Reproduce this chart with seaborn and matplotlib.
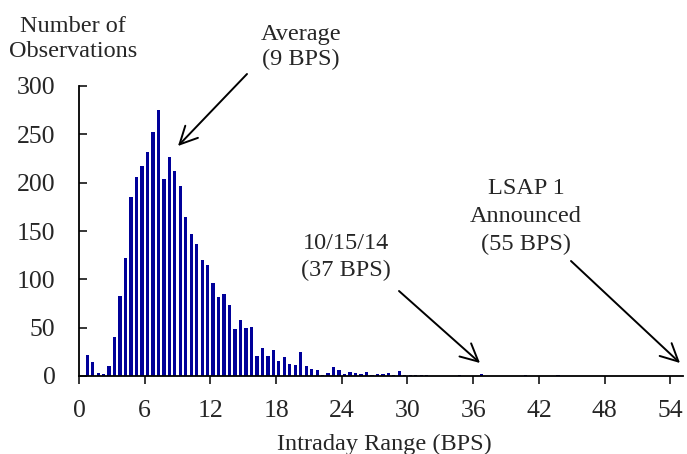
import numpy as np
import pandas as pd
import seaborn as sns
import matplotlib.pyplot as plt

# Histogram counts, 0.5 BPS bins starting at 0.5 BPS
counts = [22, 14, 3, 2, 10, 40, 83, 122, 185, 206,
          217, 232, 252, 275, 204, 227, 212, 197, 164, 147,
          137, 120, 115, 96, 82, 85, 73, 49, 58, 50,
          51, 21, 29, 21, 27, 16, 20, 12, 11, 25,
          10, 7, 6, 1, 3, 9, 6, 2, 4, 3,
          2, 4, 1, 2, 2, 3, 1, 5, 1, 1,
          1, 1, 1, 0, 0, 0, 0, 0, 1, 0,
          0, 0, 2, 0, 0, 0, 0, 0, 0, 0,
          1, 0, 0, 0, 0, 0, 1]
bin_start = np.arange(len(counts)) * 0.5 + 0.5
x_ticks = [0, 6, 12, 18, 24, 30, 36, 42, 48, 54]
y_ticks = [0, 50, 100, 150, 200, 250, 300]

df = pd.DataFrame({"bin_mid": bin_start + 0.25, "count": counts})

sns.set_style("white")
plt.rcParams["font.family"] = ["Liberation Serif", "DejaVu Serif"]
plt.rcParams["font.size"] = 17.5

W, H = 687, 454
fig = plt.figure(figsize=(W / 100, H / 100), dpi=100)
ax = fig.add_axes([79 / W, 1 - 376 / H, (683 - 79) / W, (376 - 86) / H])

sns.barplot(data=df, x="bin_mid", y="count", native_scale=True, width=0.6,
            color="#000099", saturation=1, ax=ax, linewidth=0)

ax.set_xlim(0, 55.16)
ax.set_ylim(0, 300)
ax.set_xticks(x_ticks)
ax.set_yticks(y_ticks)
ax.set_xlabel("")
ax.set_ylabel("")
sns.despine(ax=ax)
for s in ["left", "bottom"]:
    ax.spines[s].set_color("black")
    ax.spines[s].set_linewidth(1.3)
ax.tick_params(axis="x", direction="out", length=6, width=1.3, pad=11,
               labelsize=18.5, bottom=True)
ax.tick_params(axis="y", direction="in", length=6, width=1.3, pad=17,
               labelsize=18.5, left=True)


def fx(px):
    return px / W


def fy(py):
    return 1 - py / H


# (text, centre x, baseline y) in pixels
labels = [("Number of", 73, 32), ("Observations", 73, 57),
          ("Average", 301, 40), ("(9 BPS)", 301, 65),
          ("10/15/14", 346, 249), ("(37 BPS)", 346, 276),
          ("LSAP 1", 526, 194), ("Announced", 526, 222), ("(55 BPS)", 526, 250),
          ("Intraday Range (BPS)", 384, 450)]
for txt, x, y in labels:
    fig.text(fx(x), fy(y), txt, ha="center", va="baseline", fontsize=17.5)

arrow = dict(arrowstyle="->,head_length=0.9,head_width=0.45", color="black",
             lw=1.4, shrinkA=0, shrinkB=0, mutation_scale=14)
for (x0, y0), (x1, y1) in [((247, 74), (178, 146)),
                            ((399, 291), (480, 363)),
                            ((571, 261), (680, 363))]:
    ax.annotate("", xy=(fx(x1), fy(y1)), xycoords="figure fraction",
                xytext=(fx(x0), fy(y0)), textcoords="figure fraction",
                arrowprops=arrow, annotation_clip=False)

fig.savefig("out.png", dpi=100)
